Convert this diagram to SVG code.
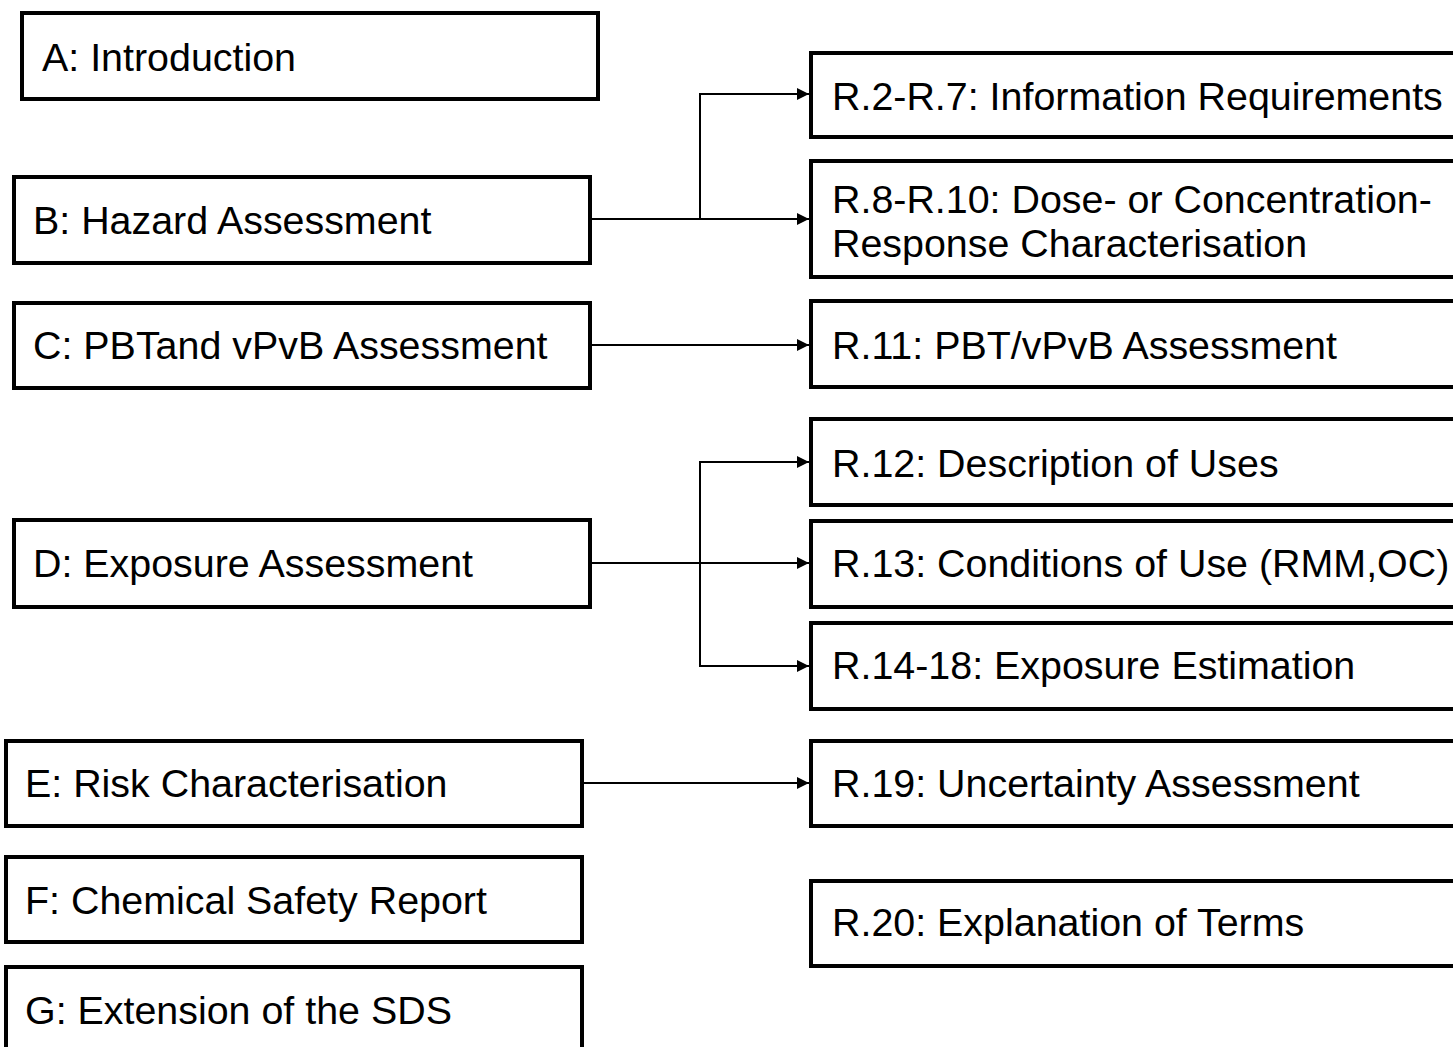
<svg xmlns="http://www.w3.org/2000/svg" width="1453" height="1047" viewBox="0 0 1453 1047">
<style>
.box{fill:#fff;stroke:#000;stroke-width:4}
.t{font-family:"Liberation Sans",Arial,Helvetica,sans-serif;font-size:39.4px;fill:#000}
.c{fill:none;stroke:#000;stroke-width:2}
</style>
<defs>
<marker id="ah" markerUnits="userSpaceOnUse" markerWidth="14" markerHeight="14" refX="12" refY="6" orient="auto">
<path d="M0,0 L12,6 L0,12 Z" fill="#000"/>
</marker>
</defs>
<rect width="1453" height="1047" fill="#fff"/>
<g id="nodeA"><rect class="box" x="22" y="13" width="576" height="86"/><text class="t" x="42" y="71">A: Introduction</text></g>
<g id="nodeB"><rect class="box" x="14" y="177" width="576" height="86"/><text class="t" x="33" y="234">B: Hazard Assessment</text></g>
<g id="nodeC"><rect class="box" x="14" y="303" width="576" height="85"/><text class="t" x="33" y="359">C: PBTand vPvB Assessment</text></g>
<g id="nodeD"><rect class="box" x="14" y="520" width="576" height="87"/><text class="t" x="33" y="577">D: Exposure Assessment</text></g>
<g id="nodeE"><rect class="box" x="6" y="741" width="576" height="85"/><text class="t" x="25" y="797">E: Risk Characterisation</text></g>
<g id="nodeF"><rect class="box" x="6" y="857" width="576" height="85"/><text class="t" x="25" y="914">F: Chemical Safety Report</text></g>
<g id="nodeG"><rect class="box" x="6" y="967" width="576" height="110"/><text class="t" x="25" y="1024">G: Extension of the SDS</text></g>
<g id="nodeR2"><rect class="box" x="811" y="53" width="700" height="84"/><text class="t" x="832" y="110">R.2-R.7: Information Requirements</text></g>
<g id="nodeR8"><rect class="box" x="811" y="161" width="700" height="116"/><text class="t" x="832" y="213">R.8-R.10: Dose- or Concentration-</text><text class="t" x="832" y="257">Response Characterisation</text></g>
<g id="nodeR11"><rect class="box" x="811" y="301" width="700" height="86"/><text class="t" x="832" y="359">R.11: PBT/vPvB Assessment</text></g>
<g id="nodeR12"><rect class="box" x="811" y="419" width="700" height="86"/><text class="t" x="832" y="477">R.12: Description of Uses</text></g>
<g id="nodeR13"><rect class="box" x="811" y="521" width="700" height="86"/><text class="t" x="832" y="577">R.13: Conditions of Use (RMM,OC)</text></g>
<g id="nodeR14"><rect class="box" x="811" y="623" width="700" height="86"/><text class="t" x="832" y="679">R.14-18: Exposure Estimation</text></g>
<g id="nodeR19"><rect class="box" x="811" y="741" width="700" height="85"/><text class="t" x="832" y="797">R.19: Uncertainty Assessment</text></g>
<g id="nodeR20"><rect class="box" x="811" y="881" width="700" height="85"/><text class="t" x="832" y="936">R.20: Explanation of Terms</text></g>
<g id="connectors">
<path class="c" d="M592,219 H700 V94 H809" marker-end="url(#ah)"/>
<path class="c" d="M700,219 H809" marker-end="url(#ah)"/>
<path class="c" d="M592,345 H809" marker-end="url(#ah)"/>
<path class="c" d="M592,563 H809" marker-end="url(#ah)"/>
<path class="c" d="M700,563 V462 H809" marker-end="url(#ah)"/>
<path class="c" d="M700,563 V666 H809" marker-end="url(#ah)"/>
<path class="c" d="M584,783 H809" marker-end="url(#ah)"/>
</g>
</svg>
